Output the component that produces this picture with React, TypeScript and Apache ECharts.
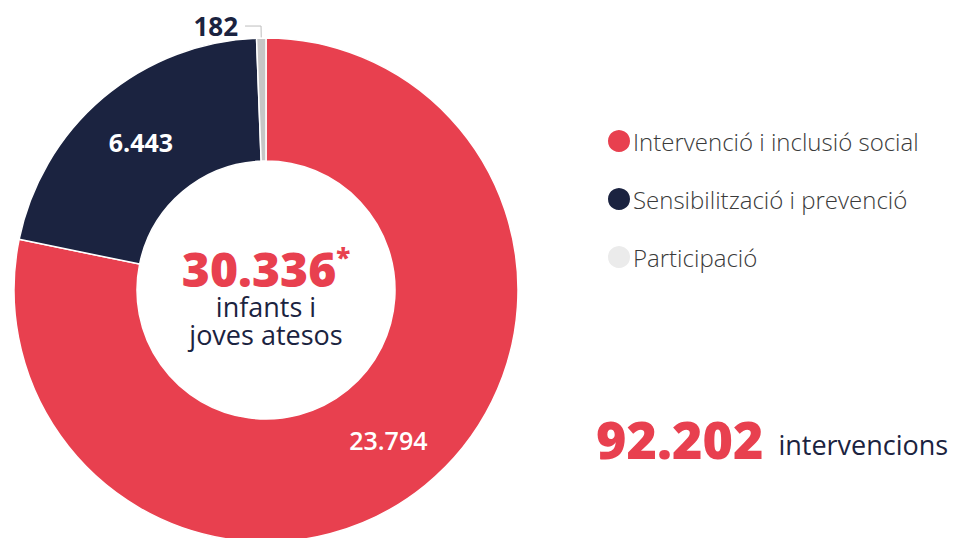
import React, { useEffect, useRef } from "react";
import * as echarts from "echarts";

const categories = ["Intervenció i inclusió social", "Sensibilització i prevenció", "Participació"];
const values = [23794, 6443, 182];
const valueLabels = ["23.794", "6.443", "182"];
const sliceColors = ["#E8404F", "#1B2340", "#C6C6C6"];
const legendColors = ["#E8404F", "#1B2340", "#EBEBEB"];
const totalYoung = "30.336";
const centerLines = ["infants i", "joves atesos"];
const totalInterventions = "92.202";
const interventionsLabel = "intervencions";

const RED = "#E8404F";
const NAVY = "#1B2340";

export default function App() {
  const ref = useRef<HTMLDivElement>(null);
  useEffect(() => {
    if (!ref.current) return;
    const chart = echarts.init(ref.current, null, { renderer: "svg" });
    const data = categories.map((name, i) => {
      const base: any = {
        name,
        value: values[i],
        itemStyle: { color: sliceColors[i] },
      };
      if (i === 2) {
        base.label = {
          show: true,
          position: "outside",
          formatter: valueLabels[i],
          color: NAVY,
          fontSize: 26,
          fontWeight: 700,
          fontFamily: "Open Sans",
          padding: [0, 2, 0, 0],
        };
        base.labelLine = {
          show: true,
          length: 12,
          length2: 16,
          lineStyle: { color: "#BDBDBD", width: 1 },
        };
      } else {
        base.label = {
          show: true,
          position: "inside",
          formatter: valueLabels[i],
          color: "#FFFFFF",
          fontSize: 25,
          fontWeight: i === 1 ? 700 : 600,
          fontFamily: "Open Sans",
        };
      }
      return base;
    });
    chart.setOption({
      animation: false,
      legend: {
        orient: "vertical",
        left: 601,
        top: 123,
        icon: "circle",
        itemWidth: 24,
        itemHeight: 24,
        itemGap: 32,
        selectedMode: false,
        textStyle: {
          fontSize: 24,
          fontFamily: "Open Sans",
          fontWeight: 300,
          color: "#3A3A3A",
          padding: [0, 0, 0, -3],
        },
        data: categories.map((name, i) => ({ name, itemStyle: { color: legendColors[i] } })),
      },
      series: [
        {
          type: "pie",
          center: [266, 290],
          radius: [129, 252],
          startAngle: 90,
          clockwise: true,
          avoidLabelOverlap: false,
          itemStyle: { borderColor: "#FFFFFF", borderWidth: 1.5 },
          emphasis: { disabled: true },
          data,
        },
      ],
      graphic: [
        {
          type: "text",
          style: {
            x: 266,
            y: 244,
            text:
              "{big|" + totalYoung + "}{sup|*}\n{txt|" + centerLines[0] + "}\n{txt|" + centerLines[1] + "}",
            align: "center",
            verticalAlign: "top",
            rich: {
              big: { fontSize: 48, fontWeight: 800, fontFamily: "Open Sans", fill: RED, lineHeight: 48, align: "center" },
              sup: { fontSize: 26, fontWeight: 800, fontFamily: "Open Sans", fill: RED, verticalAlign: "top", lineHeight: 48, padding: [0, 0, 14, 0] },
              txt: { fontSize: 27, fontFamily: "Open Sans", fill: NAVY, lineHeight: 28, align: "center" },
            },
          },
        } as any,
        {
          type: "text",
          style: {
            x: 596,
            y: 438,
            text: "{big|" + totalInterventions + "}{small| " + interventionsLabel + "}",
            verticalAlign: "middle",
            rich: {
              big: { fontSize: 52, fontWeight: 800, fontFamily: "Open Sans", fill: RED },
              small: { fontSize: 27, fontFamily: "Open Sans", fill: NAVY, padding: [12, 0, 0, 8] },
            },
          },
        } as any,
      ],
    });
    return () => chart.dispose();
  }, []);
  return (
    <div
      ref={ref}
      style={{ position: "fixed", left: 0, top: 0, width: 956, height: 538, background: "#FFFFFF" }}
    />
  );
}
